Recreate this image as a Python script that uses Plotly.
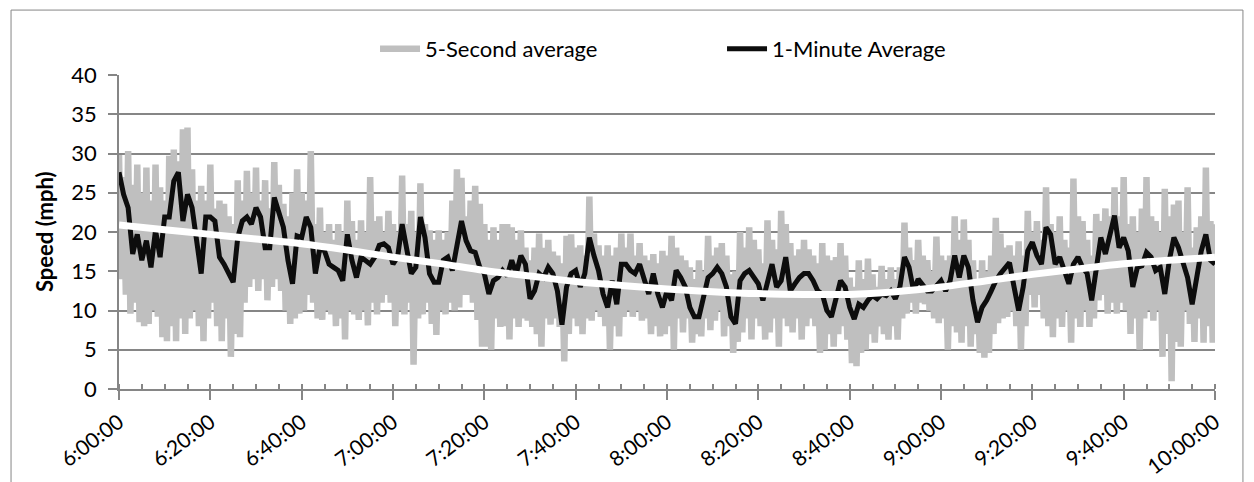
import pandas as pd
import plotly.graph_objects as go

# Morning speed record, 6:00:00 to 10:00:00
start_time = "2000-01-01 06:00:00"
end_time = "2000-01-01 10:00:00"

# 1-minute averages (mph), one value per minute from 6:00 to 10:00
one_minute_avg = [
    27.6, 24.8, 23.1, 17.2, 19.7, 16.4, 18.9, 15.5, 20.2, 16.8,
    21.9, 21.9, 26.5, 27.6, 21.4, 24.8, 23.1, 18.5, 14.7, 21.9,
    21.9, 21.4, 16.8, 15.9, 14.7, 13.6, 19.3, 21.4, 21.9, 21.0,
    23.1, 21.9, 18.0, 18.0, 24.4, 22.7, 20.6, 16.4, 13.4, 19.5,
    19.3, 21.9, 20.6, 14.7, 18.0, 17.6, 15.9, 15.5, 15.1, 13.8,
    19.7, 16.4, 14.2, 16.8, 16.4, 15.9, 16.8, 18.3, 18.5, 18.0,
    15.9, 16.8, 21.0, 18.0, 14.7, 15.5, 21.9, 19.3, 14.7, 13.6,
    13.6, 16.4, 16.8, 15.1, 18.0, 21.4, 18.9, 17.6, 17.4, 15.5,
    14.7, 12.1, 13.8, 14.2, 15.1, 14.4, 16.4, 14.7, 17.0, 15.9,
    11.5, 12.5, 14.7, 14.2, 15.5, 14.7, 12.5, 8.2, 13.0, 14.7,
    15.1, 13.0, 14.7, 19.3, 17.0, 15.1, 12.1, 10.4, 13.8, 10.8,
    15.9, 15.9, 15.1, 14.7, 15.9, 13.8, 12.1, 14.7, 12.1, 10.4,
    12.5, 11.3, 15.1, 14.2, 13.0, 10.4, 9.2, 9.2, 12.1, 14.2,
    14.7, 15.5, 14.7, 13.0, 9.2, 8.3, 13.8, 14.7, 15.1, 14.2,
    13.4, 11.3, 13.8, 15.9, 13.0, 13.8, 16.8, 12.5, 13.4, 14.2,
    14.7, 14.7, 13.8, 12.5, 12.1, 10.0, 9.2, 11.3, 13.8, 13.0,
    10.4, 8.9, 10.8, 10.4, 11.3, 11.9, 11.5, 12.1, 11.9, 12.5,
    11.5, 13.0, 16.8, 15.5, 12.5, 14.0, 13.2, 12.5, 12.5, 13.2,
    13.8, 12.5, 13.8, 17.0, 14.2, 17.0, 15.5, 11.3, 8.5, 10.4,
    11.3, 12.5, 13.8, 14.7, 15.5, 16.1, 13.0, 10.0, 13.0, 17.6,
    18.7, 17.0, 15.9, 20.6, 19.7, 15.9, 16.8, 15.1, 13.4, 15.9,
    16.8, 15.5, 14.7, 11.3, 15.9, 19.3, 17.2, 19.7, 22.1, 18.0,
    19.3, 17.6, 13.0, 15.5, 15.7, 17.4, 16.8, 15.1, 15.5, 12.1,
    16.4, 19.3, 18.0, 16.1, 14.2, 10.8, 14.7, 17.6, 19.7, 16.4,
    15.9,
]

# 5-second averages (mph): the sample on each whole minute ...
five_sec_on_minute = [
    29.8, 27, 30.3, 26, 28.6, 25, 28.2, 24, 28.6, 25.7,
    24, 29.7, 30.5, 29, 33.1, 33.3, 28, 24, 25.9, 24,
    28.6, 23, 24, 23.6, 22, 21, 26.6, 24, 27.8, 25,
    28.2, 24, 26.6, 23, 28.9, 26, 23.6, 22, 25, 28,
    25, 24, 30.3, 21, 23.1, 20, 21, 19, 21, 20,
    24, 21.4, 19, 21.5, 20, 27, 21.4, 22, 20, 22.7,
    21, 20, 27.2, 21, 22.7, 20, 26.2, 21, 20.2, 19,
    20.2, 19, 20, 24, 28, 26.9, 22, 24, 25.9, 23.6,
    21, 19, 20.6, 19, 21, 21, 20.6, 19, 20.2, 18,
    16.4, 18, 19.8, 18, 19, 17.5, 17, 16, 19.5, 19.7,
    18, 18.3, 17, 24.5, 19.8, 18.3, 17, 18.3, 17, 18,
    19.8, 18, 19.8, 17, 18.6, 17, 16.4, 17.2, 16, 17.6,
    17, 19.5, 18, 17, 16.4, 15.5, 14, 16.4, 15, 19.5,
    17, 18, 18.6, 17, 14.6, 15, 20, 18, 20.6, 19,
    17.8, 16, 21.5, 19, 17.8, 22.7, 21, 18.6, 17, 17.8,
    19, 17.8, 17, 16, 18.6, 17, 16.4, 16.8, 18.6, 17,
    14.2, 13, 16.4, 14, 16.6, 14.6, 13, 15.7, 14, 15.5,
    14, 15.5, 21.2, 18, 16.4, 19, 17, 16.4, 15, 19.4,
    17, 16.4, 17, 22, 19, 21.6, 19, 16.4, 14, 16.4,
    15, 17, 21.8, 19.8, 18, 18.3, 17, 18.8, 17, 22.7,
    20, 21.4, 19, 25.7, 21, 20, 22, 19, 18, 26.8,
    22, 21.4, 19, 17, 22.3, 21.4, 23, 22, 25.7, 22,
    27, 21, 22, 20, 23, 27, 22, 21.4, 20, 25.5,
    22, 23.5, 24, 20, 25.7, 18, 20.6, 22, 28.2, 21.4,
    21,
]

# ... and the sample on each half minute
five_sec_half_minute = [
    14, 12, 9.6, 11, 8.5, 8, 8.3, 10, 9.2, 6.6,
    6.1, 8, 6.1, 9, 7, 9, 10, 8, 6.1, 9,
    11, 8, 6.1, 9, 4.1, 7, 6.6, 11, 13, 14,
    12.5, 14, 11.3, 13, 14, 12.5, 10, 8.3, 9, 9.6,
    10, 12, 11, 9, 8.8, 10, 9.5, 8, 9, 6.3,
    10, 9.5, 8.8, 10, 8.1, 11, 9.5, 11, 12, 11,
    8, 10, 9.5, 11, 3.1, 9, 9.5, 11, 8.3, 6.9,
    10, 9.5, 11, 10, 10.4, 12, 12, 11, 8.8, 5.4,
    5.4, 5, 9, 7.9, 8, 6.3, 9, 7.9, 9, 8.7,
    7.9, 7, 5.4, 9, 8.2, 9, 7.9, 3.5, 7, 9,
    8, 7, 9, 8.7, 10, 9.2, 8, 5, 8, 6.7,
    9.2, 10, 9.2, 10, 8.7, 9, 7, 8, 6.7, 7,
    8, 5, 9, 7.2, 9, 5.9, 7, 6.7, 9, 7.5,
    8.7, 10, 6.7, 8, 4.6, 6, 7.2, 9, 6.3, 9,
    8, 6.3, 7.2, 9, 5.4, 9, 8, 7.2, 9, 6.3,
    8, 9, 8, 4.6, 5, 7, 5.4, 7, 8, 6.3,
    3.3, 2.9, 4.6, 5, 7, 5.9, 8, 7, 6.3, 8,
    6.3, 9, 9.6, 11, 9.6, 11, 10.8, 10, 9, 8.4,
    9, 5, 8, 7.2, 5.9, 8, 5.4, 7, 4.6, 4,
    4.6, 7, 8.4, 9, 9.2, 10, 8, 5, 8, 12,
    10.4, 12, 9, 8, 6.6, 9, 7.9, 10, 5.9, 9,
    7.9, 10, 7.9, 9, 11.3, 12, 9.6, 11, 9.6, 11,
    10, 7, 9, 5, 9, 10, 8.7, 10, 4.1, 7,
    1, 6, 5.4, 10, 8.3, 6, 9, 5.9, 8, 5.9,
]

# Trendline values, one every 10 minutes
trend_values = [
    20.9, 20.3, 19.7, 19.1, 18.5, 17.7, 16.8, 16.0, 15.1, 14.4,
    13.7, 13.2, 12.75, 12.4, 12.15, 12.05, 12.05, 12.4, 13.0, 13.8,
    14.6, 15.3, 15.95, 16.4, 16.8,
]

t0 = pd.Timestamp(start_time)
t_minute = pd.date_range(t0, periods=len(one_minute_avg), freq="1min")
t_trend = pd.date_range(t0, periods=len(trend_values), freq="10min")

# interleave whole-minute and half-minute samples into one time series
t_five, v_five = [], []
for i, v in enumerate(five_sec_on_minute):
    t_five.append(t0 + pd.Timedelta(minutes=i))
    v_five.append(v)
    if i < len(five_sec_half_minute):
        t_five.append(t0 + pd.Timedelta(minutes=i, seconds=30))
        v_five.append(five_sec_half_minute[i])

GRID = "#868686"
FONT = "Lato"
FS = 22

fig = go.Figure()
fig.add_trace(go.Scatter(
    x=t_five, y=v_five, mode="lines", name="5-Second average",
    line=dict(color="#BFBFBF", width=6.5),
))
fig.add_trace(go.Scatter(
    x=t_minute, y=one_minute_avg, mode="lines", name="1-Minute Average",
    line=dict(color="#0D0D0D", width=5),
))
fig.add_trace(go.Scatter(
    x=t_trend, y=trend_values, mode="lines", showlegend=False,
    line=dict(color="#FFFFFF", width=7, shape="spline"),
))

fig.update_layout(
    width=1254, height=482,
    margin=dict(l=119, r=39, t=75, b=93, autoexpand=False),
    paper_bgcolor="white", plot_bgcolor="white",
    font=dict(family=FONT, size=FS, color="black"),
    legend=dict(
        orientation="h", x=0.2336, xanchor="left", y=1.083, yanchor="middle",
        font=dict(family=FONT, size=FS, color="black"),
        bgcolor="rgba(0,0,0,0)", itemwidth=40, entrywidth=292,
        entrywidthmode="pixels",
    ),
    xaxis=dict(
        type="date", range=[t0, pd.Timestamp(end_time)], automargin=False,
        tick0=t0, dtick=20 * 60 * 1000, tickformat="%-H:%M:%S",
        tickangle=-37, ticks="outside", ticklen=9, tickwidth=1.5, tickcolor=GRID,
        ticklabelstandoff=2,
        showline=True, linecolor=GRID, linewidth=1.5,
        showgrid=False, zeroline=False,
        tickfont=dict(family=FONT, size=21, color="black"),
        minor=dict(dtick=5 * 60 * 1000, ticks="inside", ticklen=5,
                   tickwidth=1.5, tickcolor=GRID, showgrid=False),
    ),
    yaxis=dict(
        range=[0, 40], tick0=0, dtick=5, automargin=False,
        ticks="outside", ticklen=9, tickwidth=1.5, tickcolor=GRID,
        ticklabelstandoff=7,
        showline=True, linecolor=GRID, linewidth=1.5,
        showgrid=True, gridcolor=GRID, gridwidth=1.5, zeroline=False,
        tickfont=dict(family=FONT, size=FS, color="black"),
    ),
    annotations=[dict(
        text="<b>Speed (mph)</b>", xref="paper", yref="paper",
        x=-0.0684, y=0.5, xanchor="center", yanchor="middle",
        textangle=-90, showarrow=False,
        font=dict(family=FONT, size=FS, color="black"),
    )],
    shapes=[dict(
        type="rect", xref="paper", yref="paper",
        x0=-0.0985, x1=1.0255, y0=-0.35, y1=1.2068,
        line=dict(color=GRID, width=1), layer="below",
    )],
)

fig.write_html("out.html")
